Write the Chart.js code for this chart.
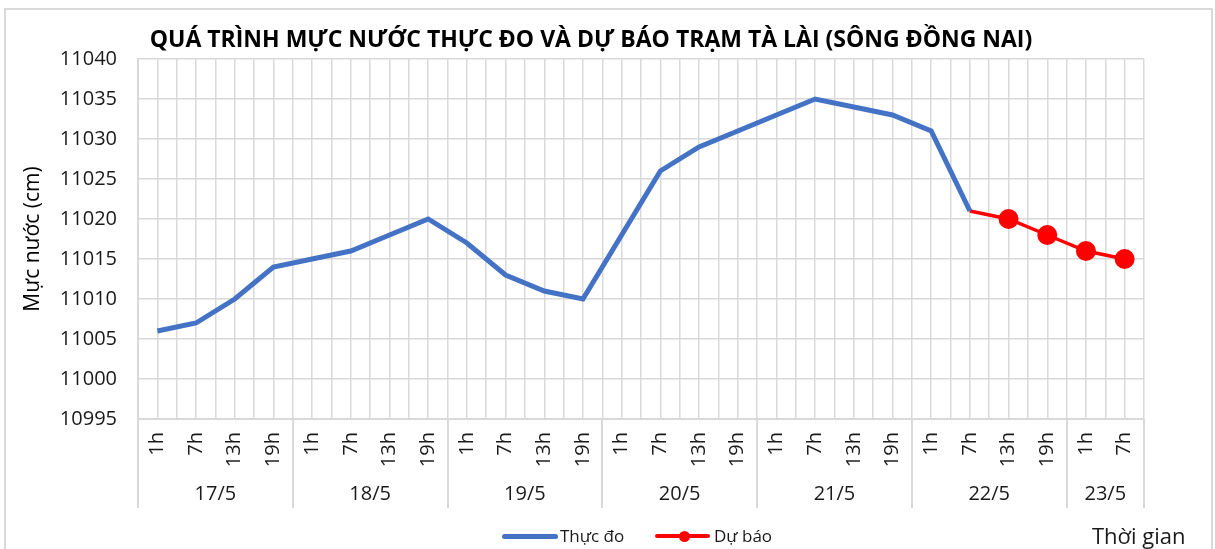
<!DOCTYPE html>
<html>
<head>
<meta charset="utf-8">
<script src="https://cdn.jsdelivr.net/npm/chart.js@4.4.1/dist/chart.umd.min.js"></script>
<style>
  html, body { margin:0; padding:0; background:#fff; }
  body { width:1215px; height:549px; position:relative; overflow:hidden; font-family:"Open Sans", sans-serif; color:#1a1a1a; }
  .frame { position:absolute; left:4px; top:8px; width:1209px; height:560px; border:2px solid #d9d9d9; box-sizing:border-box; }
  .wrap { position:absolute; left:0; top:0; width:1215px; height:549px; }
  .title { position:absolute; left:0; width:1182px; top:22px; text-align:center; font-weight:700; font-size:23px; color:#000; white-space:nowrap; }
  .leg { position:absolute; top:524px; font-size:17px; line-height:24px; color:#1a1a1a; white-space:nowrap; }
  .leg .ln { position:absolute; top:10px; height:5px; border-radius:3px; }
  .leg .dot { position:absolute; top:7px; width:11px; height:11px; border-radius:50%; background:#ff0000; }
  .axname { position:absolute; left:1092px; top:520px; font-size:22px; color:#1a1a1a; white-space:nowrap; }
</style>
</head>
<body>
<div class="frame"></div>
<div class="wrap"><canvas id="c"></canvas></div>
<div class="title">QUÁ TRÌNH MỰC NƯỚC THỰC ĐO VÀ DỰ BÁO TRẠM TÀ LÀI (SÔNG ĐỒNG NAI)</div>
<div class="leg" style="left:502px;"><span class="ln" style="left:0;width:56px;background:#4472c4;"></span><span style="margin-left:58px;">Thực đo</span></div>
<div class="leg" style="left:655px;"><span class="ln" style="left:0;width:55px;height:4px;background:#ff0000;"></span><span class="dot" style="left:24px;"></span><span style="margin-left:59px;">Dự báo</span></div>
<div class="axname">Thời gian</div>
<script>
'use strict';

// nhãn trục
const hours = ['1h','7h','13h','19h', '1h','7h','13h','19h', '1h','7h','13h','19h',
  '1h','7h','13h','19h', '1h','7h','13h','19h', '1h','7h','13h','19h', '1h','7h'];
const days = ['17/5','18/5','19/5','20/5','21/5','22/5','23/5'];
const daySpan = [4, 4, 4, 4, 4, 4, 2];

// mực nước (cm)
const thucDo = [11006, 11007, 11010, 11014, 11015, 11016, 11018, 11020,
  11017, 11013, 11011, 11010, 11018, 11026, 11029, 11031,
  11033, 11035, 11034, 11033, 11031, 11021, null, null, null, null];
const duBao = [null, null, null, null, null, null, null, null, null, null,
  null, null, null, null, null, null, null, null, null, null,
  null, 11021, 11020, 11018, 11016, 11015];

const yMin = 10995, yMax = 11040, yStep = 5;
const GRID = '#d9d9d9';
const TXT = '#1a1a1a';
const SEP_BOTTOM = 508;

// vạch phân cách ngày + nhãn ngày
const dayAxis = {
  id: 'dayAxis',
  afterDraw(chart) {
    const x = chart.scales.x; const ctx = chart.ctx;
    const half = (x.getPixelForValue(1) - x.getPixelForValue(0)) / 2;
    const top = chart.chartArea.bottom;
    ctx.save();
    ctx.strokeStyle = GRID; ctx.lineWidth = 2;
    let s = 0;
    const edges = [];
    days.forEach((d, k) => {
      const x1 = x.getPixelForValue(s) - half;
      const x2 = x.getPixelForValue(s + daySpan[k] - 1) + half;
      edges.push(x1, x2);
      ctx.fillStyle = TXT;
      ctx.font = '20px "Open Sans"';
      ctx.textAlign = 'center'; ctx.textBaseline = 'middle';
      ctx.fillText(d, (x1 + x2) / 2, 494);
      s += daySpan[k];
    });
    [...new Set(edges.map(v => Math.round(v)))].forEach(px => {
      ctx.beginPath(); ctx.moveTo(px, top); ctx.lineTo(px, SEP_BOTTOM); ctx.stroke();
    });
    ctx.restore();
  }
};

new Chart(document.getElementById('c'), {
  type: 'line',
  data: {
    labels: hours,
    datasets: [
      { label: 'Thực đo', data: thucDo, borderColor: '#4472c4', backgroundColor: '#4472c4',
        borderWidth: 5, pointRadius: 0, tension: 0, spanGaps: false },
      { label: 'Dự báo', data: duBao, borderColor: '#ff0000', backgroundColor: '#ff0000',
        borderWidth: 3.5, pointRadius: duBao.map((v, i) => i === 21 ? 0 : 10), pointHoverRadius: 10,
        pointBorderWidth: 0, tension: 0 }
    ]
  },
  options: {
    responsive: true, maintainAspectRatio: false, animation: false,
    layout: { padding: { top: 59, right: 71, left: 0, bottom: 41 } },
    plugins: { legend: { display: false }, tooltip: { enabled: false } },
    scales: {
      x: {
        type: 'category', position: 'bottom', offset: true,
        grid: { offset: true, color: GRID, lineWidth: 1.5, drawTicks: false },
        border: { color: GRID, width: 2 },
        ticks: { autoSkip: false, minRotation: 90, maxRotation: 90, padding: 13,
          color: TXT, font: { family: 'Open Sans', size: 20 } },
        afterFit(s) { s.height = SEP_BOTTOM - 419; }
      },
      xg: {
        type: 'category', position: 'top', offset: true,
        grid: { offset: false, color: GRID, lineWidth: 1.5, drawTicks: false },
        border: { display: false },
        ticks: { display: false },
        afterFit(s) { s.height = 0; }
      },
      y: {
        min: yMin, max: yMax,
        grid: { color: GRID, lineWidth: 1.5, drawTicks: false },
        border: { color: GRID, width: 2 },
        ticks: { stepSize: yStep, padding: 21, color: TXT, font: { family: 'Open Sans', size: 20 },
          callback: v => String(v) },
        title: { display: true, text: 'Mực nước (cm)', color: '#000', padding: { top: 20, bottom: 0 },
          font: { family: 'Open Sans', size: 21 } },
        afterFit(s) { s.width = 138; }
      }
    }
  },
  plugins: [dayAxis]
});
</script>
</body>
</html>
